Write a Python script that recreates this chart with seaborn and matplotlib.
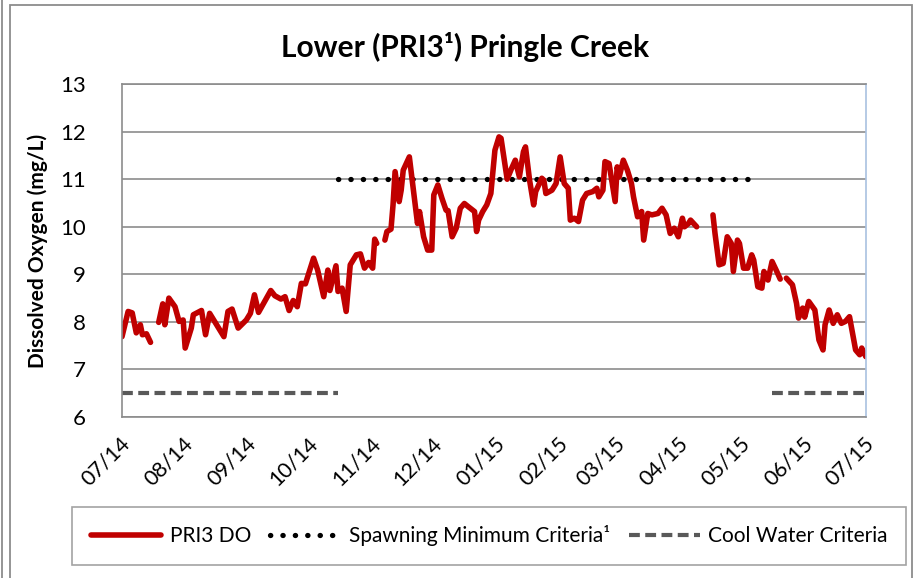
import numpy as np
import pandas as pd
import seaborn as sns
import matplotlib.pyplot as plt
import matplotlib.transforms as mtransforms
from matplotlib.lines import Line2D
from matplotlib.patches import Rectangle

start = pd.Timestamp("2014-07-01")

# daily DO readings, day offset from 07/01/2014 (NaN = logger gap)
do_days = [0, 3, 5, 7, 9, 10, 12, 14, 16, 18, 20, 21, 23, 26, 28, 30, 31, 34, 35, 39,
           41, 43, 46, 50, 52, 54, 57, 61, 63, 65, 67, 70, 73, 75, 78, 80, 82, 84, 86, 88,
           90, 94, 96, 99, 101, 102, 105, 106, 108, 110, 112, 115, 117, 119, 121, 123, 124, 125, 127, 129,
           130, 132, 133, 134, 136, 137, 138, 141, 143, 145, 146, 148, 150, 152, 153, 155, 157, 159, 160, 162,
           164, 166, 168, 170, 173, 174, 175, 177, 179, 181, 183, 185, 186, 189, 191, 193, 195, 197, 198, 200,
           202, 203, 206, 207, 208, 211, 213, 215, 217, 219, 220, 222, 224, 226, 228, 231, 233, 234, 236, 237,
           239, 242, 243, 244, 246, 248, 250, 251, 253, 255, 256, 258, 260, 263, 265, 267, 269, 271, 273, 275,
           276, 278, 279, 282, 286, 290, 291, 293, 295, 297, 299, 300, 302, 303, 305, 307, 309, 310, 312, 314,
           315, 317, 319, 321, 323, 325, 326, 329, 331, 332, 334, 335, 337, 340, 342, 344, 345, 347, 349, 351,
           353, 355, 357, 360, 362, 363, 365]
do_values = [7.69, 8.22, 8.19, 7.77, 7.94, 7.73, 7.75, 7.57, np.nan, 7.99, 8.38, 7.94, 8.50, 8.32, 8.01, 8.04, 7.45, 7.87, 8.15, 8.24,
             7.73, 8.18, 7.97, 7.69, 8.22, 8.27, 7.87, 8.04, 8.18, 8.57, 8.20, 8.43, 8.66, 8.55, 8.48, 8.53, 8.24, 8.45, 8.32, 8.81,
             8.80, 9.34, 9.09, 8.53, 9.09, 8.66, 9.18, 8.64, 8.71, 8.22, 9.20, 9.41, 9.43, 9.13, 9.25, 9.13, 9.74, 9.65, np.nan, 9.72,
             9.90, 9.95, 10.46, 11.16, 10.53, 10.77, 11.19, 11.47, 10.77, 10.07, 10.32, 9.79, 9.51, 9.51, 10.67, 10.88, 10.60, 10.35, 10.34, 9.79,
             9.97, 10.39, 10.49, 10.42, 10.32, 9.90, 10.14, 10.32, 10.46, 10.70, 11.61, 11.89, 11.86, 11.00, 11.21, 11.40, 11.05, 11.58, 11.68, 10.98,
             10.46, 10.74, 11.02, 10.98, 10.70, 10.77, 10.91, 11.47, 10.91, 10.81, 10.14, 10.18, 10.11, 10.56, 10.70, 10.74, 10.81, 10.63, 10.77, 11.37,
             11.33, 10.53, 11.26, 11.05, 11.40, 11.19, 10.91, 10.63, 10.21, 10.32, 9.72, 10.28, 10.25, 10.28, 10.39, 10.25, 9.86, 9.97, 9.79, 10.18,
             10.00, 10.07, 10.14, 10.00, np.nan, 10.25, 9.86, 9.20, 9.23, 9.79, 9.65, 9.06, 9.72, 9.65, 9.13, 9.13, 9.41, 9.30, 8.74, 8.71,
             9.06, 8.88, 9.27, 9.09, 8.90, np.nan, 8.92, 8.78, 8.39, 8.08, 8.29, 8.10, 8.43, 8.25, 7.62, 7.41, 7.94, 8.25, 7.97, 8.15,
             7.97, 8.01, 8.11, 7.41, 7.31, 7.45, 7.27]

spawn_days = [106, 310]
spawn_values = [11.0, 11.0]
cool_days = [0, 106, 319, 364]
cool_values = [6.5, 6.5, 6.5, 6.5]
cool_segment = [0, 0, 1, 1]

tick_labels = ["07/14", "08/14", "09/14", "10/14", "11/14", "12/14", "01/15",
               "02/15", "03/15", "04/15", "05/15", "06/15", "07/15"]

do = pd.DataFrame({"date": start + pd.to_timedelta(do_days, unit="D"), "do": do_values})
do["seg"] = do["do"].isna().cumsum()
do = do.dropna()
spawn = pd.DataFrame({"date": start + pd.to_timedelta(spawn_days, unit="D"), "do": spawn_values})
cool = pd.DataFrame({"date": start + pd.to_timedelta(cool_days, unit="D"), "do": cool_values,
                     "seg": cool_segment})

sns.set_style("white")
plt.rcParams["font.family"] = ["Lato", "DejaVu Sans"]
plt.rcParams["text.color"] = "black"
plt.rcParams["xtick.color"] = "black"
plt.rcParams["ytick.color"] = "black"
plt.rcParams["axes.labelcolor"] = "black"

red = "#C00000"
grey = "#595959"
grid = "#8C8C8C"

fig = plt.figure(figsize=(9.16, 5.78), dpi=100)
ax = fig.add_axes([0.1332, 0.2785, 0.812, 0.576])

dot_style = dict(color="black", linewidth=3.8, linestyle=(0, (0.05, 2.3)), dash_capstyle="round")
dash_style = dict(color=grey, linewidth=3.0, linestyle=(0, (2.6, 1.3)), dash_capstyle="butt")
red_style = dict(color=red, linewidth=4.0, solid_capstyle="round", solid_joinstyle="round")

sns.lineplot(data=cool, x="date", y="do", units="seg", estimator=None, ax=ax, **dash_style)
sns.lineplot(data=spawn, x="date", y="do", estimator=None, ax=ax, **dot_style)
sns.lineplot(data=do, x="date", y="do", units="seg", estimator=None, ax=ax, **red_style)

ax.set_xlim(start, pd.Timestamp("2015-07-01"))
ax.set_ylim(6, 13)
ax.set_yticks(range(6, 14))
ax.yaxis.grid(True, color=grid, linewidth=1.2)
ax.set_axisbelow(True)
ticks = pd.date_range("2014-07-01", "2015-07-01", freq="MS")
ax.set_xticks(ticks)
ax.tick_params(axis="x", direction="in", length=7, width=1.2, color=grid, labelsize=15.5, pad=4)
ax.tick_params(axis="y", length=0, labelsize=16, pad=26)
ax.set_xticklabels(tick_labels, rotation=45, ha="right", va="top")
# nudge the slanted month labels right and down, like the Excel original
offset = mtransforms.ScaledTranslation(0.12, -0.11, fig.dpi_scale_trans)
for lab in ax.get_xticklabels():
    lab.set_transform(lab.get_transform() + offset)
for side in ["left", "bottom", "top"]:
    ax.spines[side].set_color(grid)
    ax.spines[side].set_linewidth(1.2)
ax.spines["right"].set_color("#A9C1E0")
ax.spines["right"].set_linewidth(1.2)
ax.set_xlabel("")
ax.set_ylabel("Dissolved Oxygen (mg/L)", fontsize=15, fontweight="bold")
ax.yaxis.set_label_coords(-0.0995, 0.5)

fig.text(0.508, 0.919, "Lower (PRI3¹) Pringle Creek", ha="center", va="center",
         fontsize=21.5, fontweight="bold")

handles = [Line2D([], [], **red_style), Line2D([], [], **dot_style), Line2D([], [], **dash_style)]
labels = ["PRI3 DO", "Spawning Minimum Criteria¹", "Cool Water Criteria"]
leg = fig.legend(handles, labels, loc="center", bbox_to_anchor=(0.534, 0.0727), ncol=3,
                 fontsize=15, frameon=True, fancybox=False, edgecolor=grid, handlelength=3.4,
                 handletextpad=0.4, columnspacing=0.9, borderpad=0.9)
leg.get_frame().set_linewidth(1.2)

fig.patches.append(Rectangle((10 / 916, -0.01), 902 / 916, 1 - 5 / 578 + 0.01, transform=fig.transFigure,
                             fill=False, edgecolor=grid, linewidth=1.3))
fig.lines.append(Line2D([2 / 916, 2 / 916], [0, 1], transform=fig.transFigure, color=grid, linewidth=1.3))

fig.savefig("out.png", dpi=100)
